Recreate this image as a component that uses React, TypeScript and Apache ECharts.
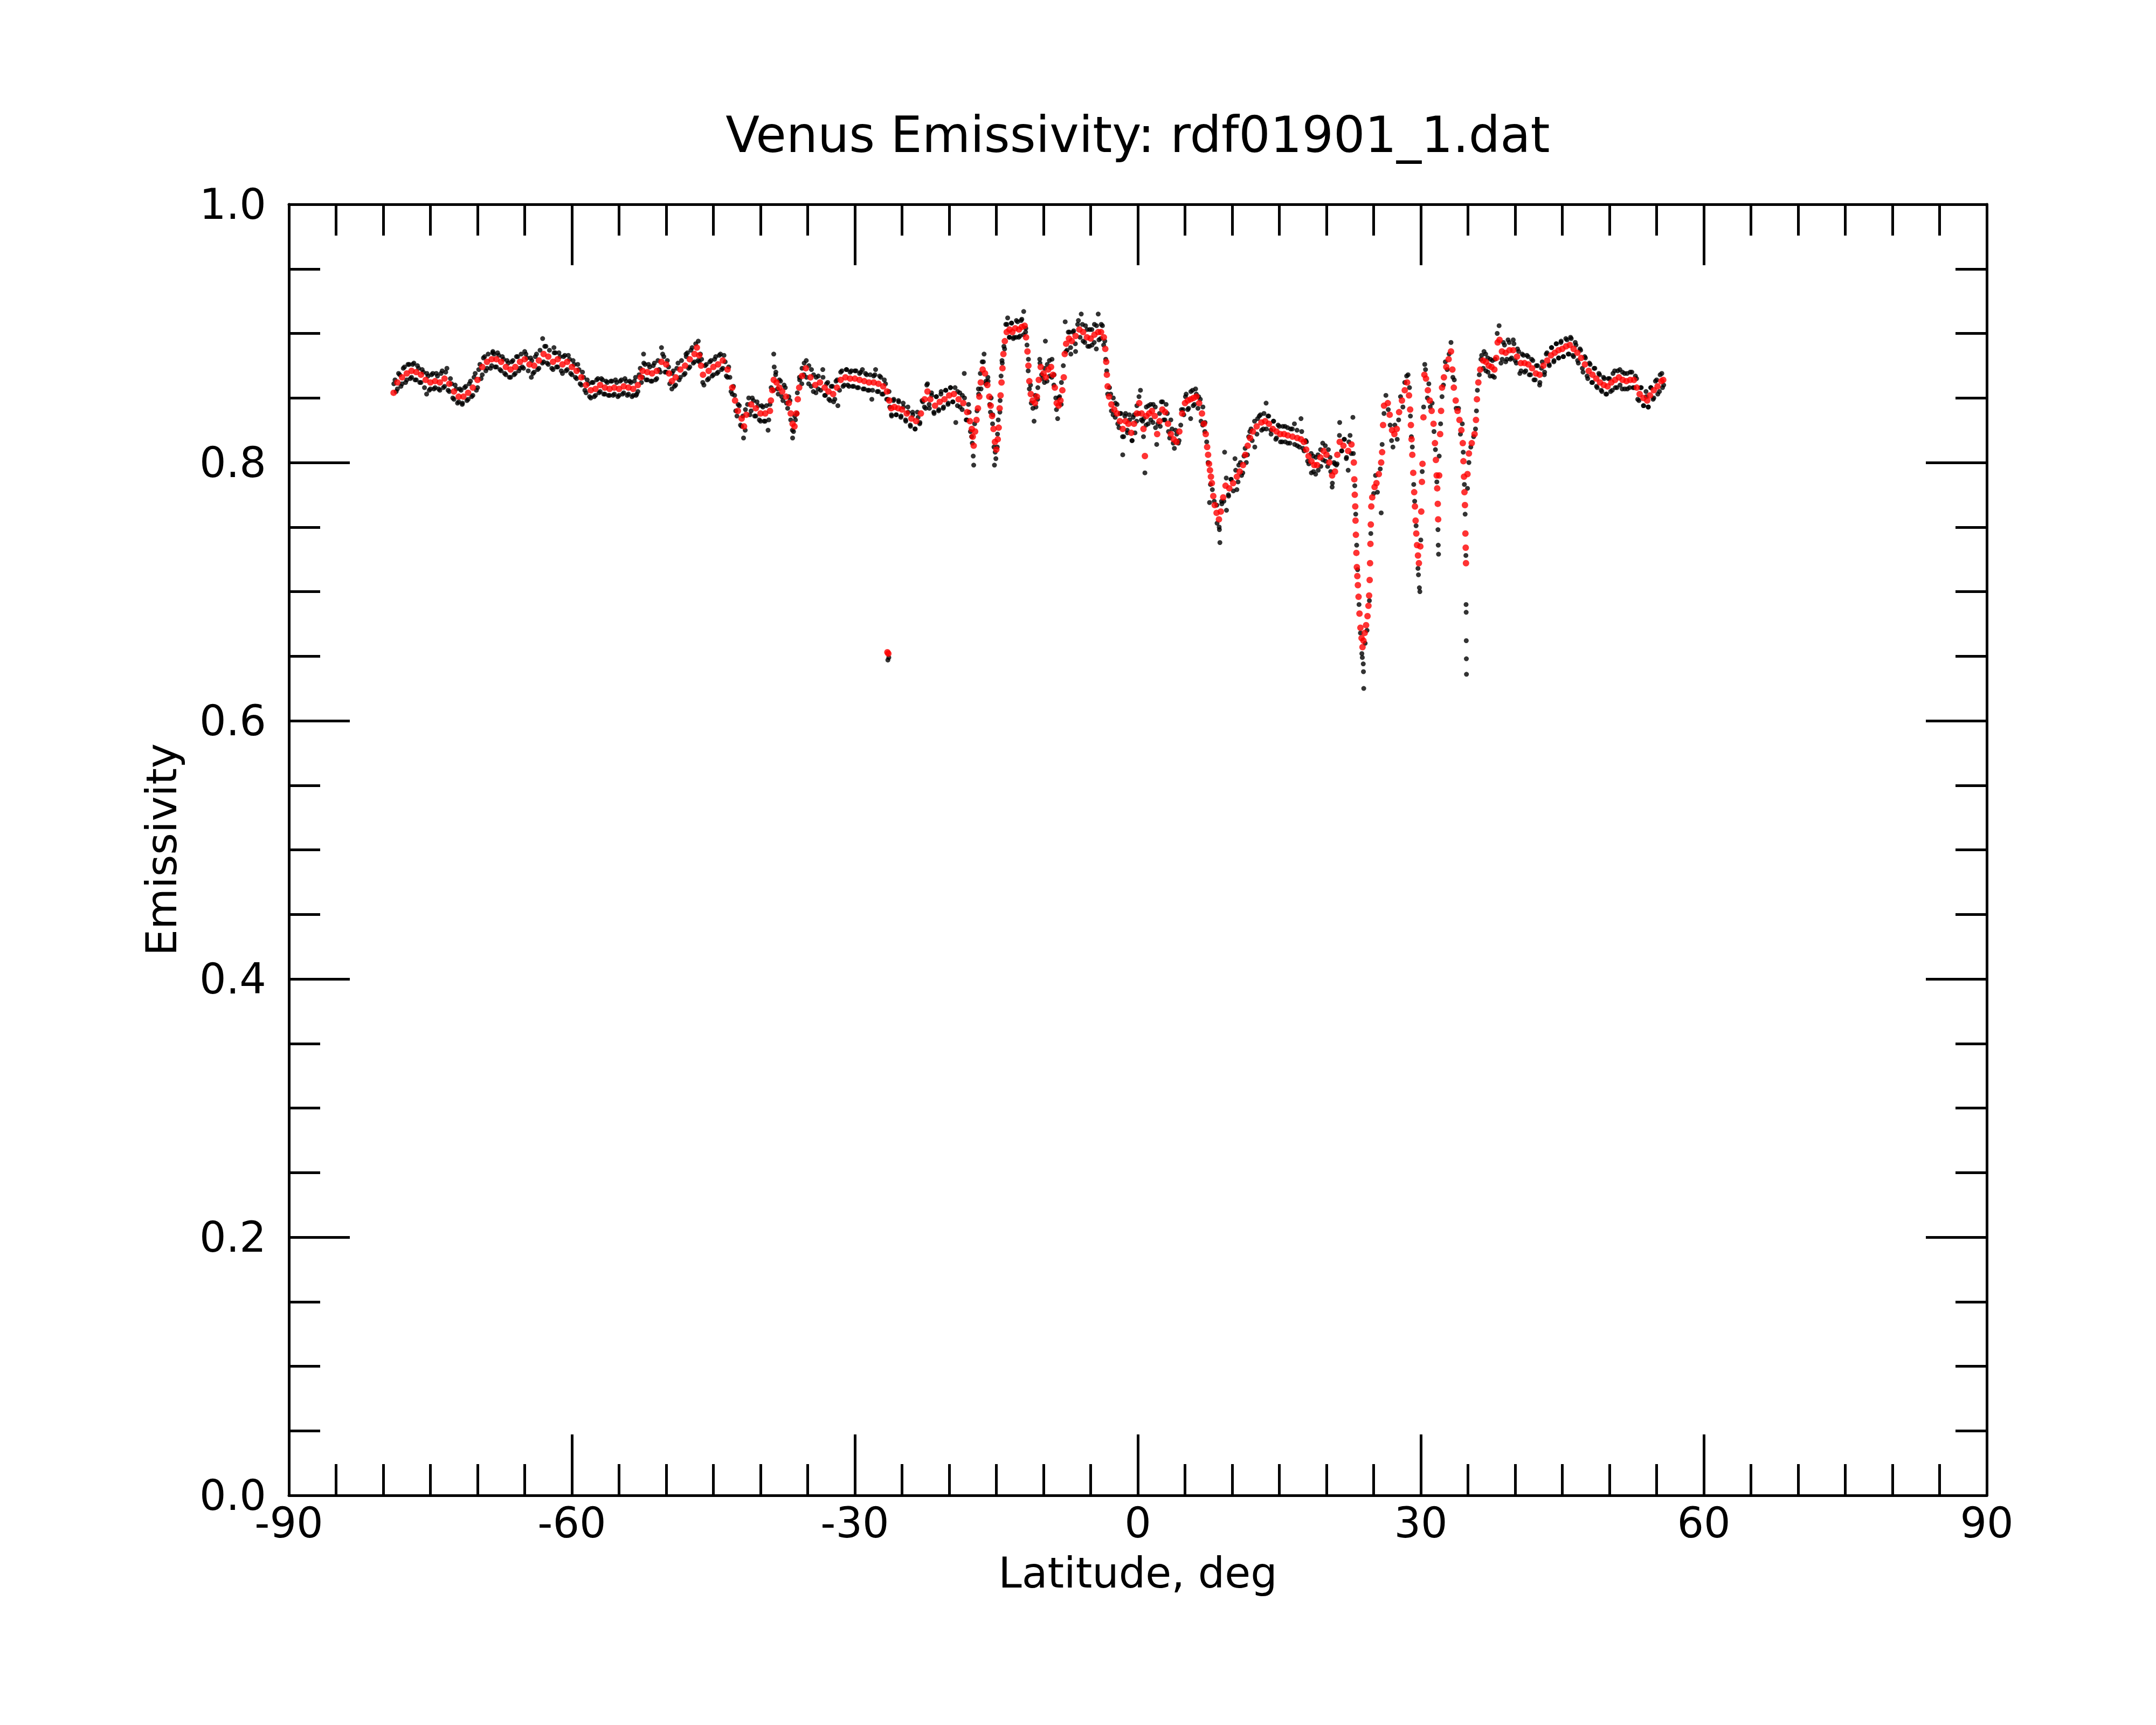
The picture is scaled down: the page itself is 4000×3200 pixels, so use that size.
import React, { useEffect, useRef } from "react";
import * as echarts from "echarts";

const TITLE = "Venus Emissivity: rdf01901_1.dat";
const X_NAME = "Latitude, deg";
const Y_NAME = "Emissivity";
const X_RANGE = [-90, 90];
const Y_RANGE = [0, 1];

// smoothed values (red), [latitude, emissivity]
const redSouth: [number, number][] = [
  [-78.9,0.854],[-78.5,0.862],[-78.0,0.866],[-77.5,0.869],[-77.0,0.871],[-76.5,0.870],[-76.0,0.868],[-75.5,0.864],[-75.0,0.862],[-74.5,0.863],[-74.0,0.862],[-73.5,0.865],[-73.0,0.861],[-72.5,0.855],[-72.0,0.851],[-71.5,0.851],[-71.0,0.854],[-70.5,0.858],[-70.0,0.864],[-69.5,0.874],[-69.0,0.878],[-68.5,0.880],[-68.0,0.880],[-67.5,0.878],[-67.0,0.874],[-66.5,0.872],[-66.0,0.874],[-65.5,0.878],[-65.0,0.880],[-64.5,0.876],[-64.0,0.875],[-63.5,0.879],[-63.0,0.884],[-62.5,0.882],[-62.0,0.878],[-61.5,0.880],[-61.0,0.876],[-60.5,0.878],[-60.0,0.874],[-59.5,0.871],[-59.0,0.866],[-58.5,0.860],[-58.0,0.856],[-57.5,0.857],[-57.0,0.860],[-56.5,0.858],[-56.0,0.857],[-55.5,0.858],[-55.0,0.857],[-54.5,0.859],[-54.0,0.858],[-53.5,0.857],[-53.0,0.860],[-52.7,0.866],[-52.5,0.871],[-52.0,0.870],[-51.5,0.869],[-51.0,0.871],[-50.5,0.878],[-50.0,0.876],[-49.7,0.869],[-49.4,0.863],[-49.0,0.866],[-48.5,0.872],[-48.0,0.875],[-47.5,0.880],[-47.0,0.884],[-46.75,0.889],[-46.5,0.883],[-46.3,0.875],[-46.1,0.868],[-45.5,0.871],[-45.0,0.874],[-44.5,0.876],[-44.0,0.879]
];
const redMid: [number, number][] = [
  [-43.5,0.872],[-43.0,0.858],[-42.7,0.848],[-42.4,0.840],[-42.0,0.834],[-41.75,0.828],[-41.5,0.837],[-41.0,0.845],[-40.5,0.842],[-40.0,0.838],[-39.5,0.838],[-39.0,0.840],[-38.9,0.848],[-38.75,0.856],[-38.6,0.864],[-38.3,0.862],[-38.0,0.858],[-37.7,0.855],[-37.3,0.851],[-37.0,0.846],[-36.8,0.838],[-36.6,0.830],[-36.4,0.828],[-36.2,0.838],[-36.05,0.849],[-35.9,0.858],[-35.6,0.867],[-35.2,0.873],[-34.7,0.866],[-34.2,0.860],[-33.7,0.862],[-33.2,0.858],[-32.8,0.855],[-32.3,0.853],[-31.9,0.858],[-31.5,0.864],[-31.0,0.866],[-30.5,0.865],[-30.0,0.865],[-29.5,0.864],[-29.0,0.863],[-28.5,0.862],[-28.0,0.862],[-27.5,0.861],[-27.0,0.859],[-26.6,0.855],[-26.35,0.848],[-26.15,0.842],[-25.8,0.843],[-25.4,0.842],[-25.0,0.841],[-24.5,0.838],[-24.0,0.834],[-23.5,0.832],[-23.0,0.838],[-22.6,0.849],[-22.3,0.855],[-22.0,0.849],[-21.5,0.844],[-21.0,0.847],[-20.5,0.849],[-20.0,0.852],[-19.5,0.853],[-19.0,0.849],[-18.5,0.846],[-18.1,0.839],[-17.8,0.832],[-17.6,0.826],[-17.5,0.820],[-17.4,0.813],[-17.25,0.824],[-17.1,0.833],[-16.95,0.842],[-16.8,0.851],[-16.65,0.862],[-16.45,0.872],[-16.2,0.869],[-15.95,0.860],[-15.75,0.851],[-15.6,0.844],[-15.45,0.836],[-15.3,0.826],[-15.15,0.816],[-15.0,0.810],[-14.85,0.818],[-14.75,0.827],[-14.65,0.842],[-14.55,0.852],[-14.45,0.862],[-14.35,0.873],[-14.25,0.884],[-14.1,0.894],[-13.9,0.901],[-13.6,0.903],[-13.3,0.901],[-13.0,0.904],[-12.6,0.903],[-12.3,0.905],[-12.0,0.906],[-11.85,0.897],[-11.7,0.886],[-11.6,0.875],[-11.5,0.863],[-11.35,0.853],[-11.15,0.848],[-10.9,0.846],[-10.7,0.851],[-10.5,0.864],[-10.3,0.874],[-10.0,0.869],[-9.75,0.866],[-9.5,0.872],[-9.2,0.874],[-9.0,0.868],[-8.8,0.858],[-8.6,0.846],[-8.4,0.844],[-8.2,0.848],[-8.0,0.856]
];
const redEquator: [number, number][] = [
  [-7.85,0.866],[-7.75,0.884],[-7.6,0.892],[-7.3,0.896],[-7.0,0.894],[-6.6,0.898],[-6.2,0.903],[-5.8,0.901],[-5.4,0.897],[-5.0,0.896],[-4.6,0.899],[-4.2,0.901],[-3.9,0.901],[-3.6,0.897],[-3.45,0.888],[-3.35,0.878],[-3.28,0.868],[-3.2,0.859],[-3.05,0.851],[-2.8,0.845],[-2.5,0.841],[-2.2,0.838],[-1.9,0.832],[-1.6,0.826],[-1.3,0.832],[-1.0,0.830],[-0.7,0.823],[-0.4,0.830],[-0.1,0.838],[0.15,0.846],[0.4,0.838],[0.6,0.826],[0.75,0.805],[0.9,0.836],[1.2,0.838],[1.5,0.840],[1.8,0.836],[2.05,0.822],[2.3,0.832],[2.6,0.841],[2.9,0.839],[3.2,0.830],[3.5,0.822],[3.8,0.818],[4.1,0.816],[4.4,0.824],[4.7,0.838],[5.0,0.846],[5.3,0.848],[5.6,0.849],[5.9,0.850],[6.2,0.851],[6.5,0.846],[6.8,0.838],[7.0,0.830],[7.2,0.822],[7.35,0.812],[7.45,0.806],[7.55,0.799],[7.65,0.794],[7.75,0.789],[7.85,0.784],[8.0,0.774],[8.15,0.767],[8.35,0.761],[8.6,0.756],[8.8,0.762],[9.05,0.773],[9.3,0.782],[9.7,0.780],[10.1,0.784],[10.5,0.789],[10.8,0.793],[11.15,0.798],[11.4,0.806],[11.65,0.813],[11.9,0.819],[12.2,0.824],[12.6,0.828],[13.1,0.831],[13.5,0.832],[13.9,0.830],[14.3,0.826],[14.7,0.824],[15.1,0.822],[15.5,0.822],[15.9,0.821],[16.4,0.820],[16.9,0.819],[17.3,0.818],[17.6,0.816],[17.85,0.810],[18.1,0.805],[18.4,0.801],[18.7,0.798],[19.0,0.798],[19.35,0.804],[19.7,0.809],[20.0,0.806],[20.3,0.800],[20.6,0.790],[20.9,0.793],[21.15,0.806],[21.4,0.816],[21.8,0.813],[22.3,0.809],[22.65,0.814]
];
const redNorth: [number, number][] = [
  [22.9,0.800],[22.95,0.787],[23.0,0.775],[23.05,0.766],[23.08,0.755],[23.12,0.744],[23.17,0.730],[23.22,0.719],[23.27,0.712],[23.33,0.705],[23.4,0.696],[23.5,0.683],[23.6,0.672],[23.72,0.664],[23.82,0.657],[23.92,0.662],[24.05,0.668],[24.2,0.674],[24.35,0.681],[24.45,0.689],[24.52,0.697],[24.58,0.709],[24.62,0.722],[24.66,0.737],[24.7,0.752],[24.75,0.766],[24.85,0.773],[25.1,0.781],[25.3,0.784],[25.55,0.791],[25.8,0.800],[25.9,0.808],[26.0,0.829],[26.1,0.844],[26.5,0.846],[26.7,0.837],[26.95,0.825],[27.2,0.822],[27.45,0.826],[27.7,0.839],[28.0,0.848],[28.3,0.856],[28.55,0.862],[28.75,0.852],[28.87,0.841],[28.95,0.829],[29.02,0.818],[29.1,0.806],[29.2,0.792],[29.3,0.777],[29.38,0.766],[29.45,0.755],[29.52,0.745],[29.6,0.736],[29.7,0.728],[29.8,0.722],[29.95,0.735],[30.05,0.762],[30.12,0.785],[30.18,0.799],[30.28,0.835],[30.38,0.868],[30.55,0.865],[30.75,0.856],[30.95,0.848],[31.15,0.840],[31.35,0.830],[31.5,0.815],[31.6,0.802],[31.68,0.790],[31.74,0.780],[31.8,0.768],[31.84,0.756],[31.95,0.790],[32.05,0.822],[32.15,0.840],[32.25,0.858],[32.45,0.866],[32.7,0.874],[32.95,0.880],[33.2,0.886],[33.35,0.872],[33.5,0.858],[33.7,0.848],[33.9,0.840],[34.1,0.833],[34.3,0.825],[34.45,0.815],[34.52,0.801],[34.58,0.789],[34.63,0.777],[34.68,0.767],[34.73,0.745],[34.76,0.734],[34.79,0.722],[34.95,0.791],[35.1,0.807],[35.4,0.815],[35.7,0.822],[35.85,0.833],[35.95,0.849],[36.1,0.862],[36.3,0.872],[36.6,0.879],[36.9,0.878],[37.2,0.875],[37.5,0.874],[37.8,0.872],[38.0,0.881],[38.15,0.893],[38.35,0.895],[38.6,0.886],[39.0,0.885],[39.4,0.887],[39.8,0.887],[40.2,0.882],[40.6,0.877],[41.0,0.877],[41.4,0.876],[41.8,0.873],[42.2,0.869],[42.6,0.868],[43.0,0.875],[43.4,0.879],[43.8,0.883],[44.2,0.885],[44.6,0.887],[45.0,0.888],[45.4,0.890],[45.8,0.891],[46.2,0.888],[46.6,0.885],[47.0,0.881],[47.4,0.876],[47.8,0.871],[48.2,0.868],[48.6,0.865],[49.0,0.862],[49.4,0.860],[49.8,0.859],[50.2,0.862],[50.6,0.864],[51.0,0.866],[51.4,0.864],[51.8,0.863],[52.2,0.864],[52.6,0.864],[52.9,0.858],[53.2,0.853],[53.6,0.850],[54.0,0.848],[54.3,0.852],[54.7,0.856],[55.1,0.859],[55.5,0.863],[55.7,0.864]
];
const redDropout: [number, number][] = [[-26.55,0.653],[-26.45,0.652]];

// raw values (black), [latitude, emissivity]
const blackSouth: [number, number][] = [
  [-78.75,0.864],[-78.5,0.857],[-78.25,0.868],[-78.0,0.861],[-77.75,0.874],[-77.5,0.864],[-77.25,0.876],[-77.0,0.866],[-76.75,0.877],[-76.5,0.864],[-76.25,0.873],[-76.0,0.862],[-75.75,0.870],[-75.4,0.853],[-75.25,0.867],[-75.0,0.857],[-74.75,0.869],[-74.5,0.858],[-74.25,0.867],[-74.0,0.856],[-73.75,0.871],[-73.5,0.859],[-73.25,0.873],[-73.0,0.855],[-72.75,0.861],[-72.5,0.849],[-72.25,0.857],[-72.0,0.847],[-71.75,0.856],[-71.6,0.846],[-71.25,0.859],[-71.0,0.849],[-70.75,0.863],[-70.5,0.852],[-70.25,0.869],[-70.0,0.858],[-69.75,0.876],[-69.5,0.868],[-69.25,0.882],[-69.0,0.873],[-68.4,0.885],[-68.5,0.875],[-68.25,0.884],[-68.0,0.874],[-67.75,0.883],[-67.5,0.871],[-67.25,0.880],[-67.0,0.868],[-66.75,0.877],[-66.5,0.866],[-66.25,0.879],[-66.0,0.869],[-65.75,0.882],[-65.5,0.873],[-65.0,0.886],[-65.25,0.874],[-64.75,0.881],[-64.3,0.866],[-64.25,0.879],[-64.0,0.870],[-63.75,0.884],[-63.5,0.873],[-63.1,0.896],[-63.0,0.878],[-62.75,0.890],[-62.5,0.876],[-61.9,0.889],[-62.0,0.872],[-61.75,0.885],[-61.5,0.874],[-61.25,0.882],[-61.0,0.869],[-60.75,0.883],[-60.5,0.872],[-60.25,0.880],[-60.0,0.868],[-59.75,0.876],[-59.5,0.865],[-59.25,0.872],[-59.0,0.860],[-58.75,0.866],[-58.5,0.854],[-58.25,0.861],[-58.0,0.850],[-57.75,0.862],[-57.5,0.852],[-57.25,0.865],[-57.0,0.855],[-56.75,0.864],[-56.5,0.853],[-56.25,0.862],[-56.0,0.852],[-55.75,0.863],[-55.5,0.853],[-55.25,0.862],[-55.0,0.852],[-54.75,0.864],[-54.5,0.854],[-54.25,0.863],[-54.0,0.853],[-53.75,0.862],[-53.5,0.852],[-53.25,0.866],[-53.2,0.852],[-53.0,0.855],[-52.4,0.884],[-52.75,0.873],[-52.5,0.866],[-52.25,0.876],[-52.0,0.864],[-51.75,0.874],[-51.5,0.863],[-51.25,0.877],[-51.0,0.865],[-50.5,0.889],[-50.75,0.872],[-50.25,0.882],[-50.0,0.870],[-49.75,0.874],[-49.4,0.857],[-49.25,0.871],[-49.0,0.860],[-48.75,0.877],[-48.5,0.866],[-47.9,0.884],[-48.0,0.869],[-47.75,0.885],[-47.5,0.874],[-47.25,0.889],[-47.0,0.878],[-46.6,0.894],[-46.5,0.878],[-46.25,0.880],[-46.0,0.860],[-45.75,0.876],[-45.5,0.865],[-45.25,0.879],[-45.0,0.868],[-44.75,0.882],[-44.5,0.870],[-44.25,0.884],[-44.0,0.873]
];
const blackMid: [number, number][] = [
  [-43.75,0.878],[-43.5,0.866],[-43.25,0.866],[-43.0,0.853],[-42.75,0.852],[-42.5,0.836],[-42.25,0.844],[-42.0,0.828],[-41.8,0.819],[-41.6,0.841],[-41.25,0.850],[-41.0,0.840],[-40.75,0.848],[-40.5,0.836],[-40.25,0.844],[-40.0,0.832],[-39.75,0.843],[-39.5,0.832],[-39.2,0.825],[-39.0,0.845],[-38.6,0.884],[-38.55,0.874],[-38.4,0.868],[-38.2,0.857],[-38.0,0.864],[-37.75,0.851],[-37.5,0.860],[-37.25,0.846],[-37.0,0.851],[-36.8,0.833],[-36.6,0.819],[-36.5,0.824],[-36.3,0.833],[-36.1,0.854],[-35.85,0.864],[-35.6,0.873],[-35.4,0.868],[-35.15,0.879],[-34.9,0.861],[-34.6,0.872],[-34.4,0.855],[-34.1,0.866],[-33.9,0.857],[-33.4,0.872],[-33.2,0.852],[-33.0,0.861],[-32.75,0.849],[-32.5,0.859],[-32.25,0.847],[-32.0,0.863],[-31.8,0.844],[-31.5,0.870],[-31.25,0.859],[-30.9,0.872],[-30.75,0.860],[-30.5,0.870],[-30.25,0.859],[-30.0,0.871],[-29.75,0.858],[-29.5,0.869],[-29.2,0.872],[-29.0,0.857],[-28.75,0.868],[-28.5,0.856],[-28.2,0.849],[-28.0,0.867],[-27.8,0.872],[-27.5,0.855],[-27.25,0.866],[-27.0,0.853],[-26.75,0.861],[-26.5,0.849],[-26.5,0.647],[-26.4,0.649],[-26.3,0.843],[-26.1,0.836],[-25.9,0.848],[-25.6,0.837],[-25.35,0.847],[-25.1,0.836],[-24.85,0.843],[-24.6,0.832],[-24.35,0.839],[-24.1,0.828],[-23.85,0.837],[-23.6,0.826],[-23.3,0.835],[-23.1,0.831],[-22.8,0.847],[-22.5,0.842],[-22.3,0.861],[-22.1,0.842],[-21.85,0.852],[-21.6,0.838],[-21.35,0.851],[-21.1,0.841],[-20.85,0.855],[-20.6,0.843],[-20.35,0.856],[-20.1,0.846],[-19.85,0.858],[-19.6,0.847],[-19.3,0.831],[-19.1,0.855],[-18.85,0.843],[-18.6,0.852],[-18.4,0.869],[-18.2,0.833],[-17.95,0.845],[-17.75,0.824],[-17.55,0.815],[-17.45,0.805],[-17.4,0.798],[-17.3,0.830],[-17.05,0.840],[-16.9,0.857],[-16.7,0.869],[-16.5,0.878],[-16.3,0.884],[-16.1,0.863],[-15.9,0.866],[-15.7,0.845],[-15.55,0.850],[-15.4,0.830],[-15.25,0.812],[-15.2,0.798],[-15.05,0.803],[-14.9,0.812],[-14.8,0.833],[-14.6,0.848],[-14.5,0.867],[-14.4,0.879],[-14.2,0.890],[-14.0,0.907],[-13.8,0.912],[-13.6,0.897],[-13.4,0.908],[-13.2,0.896],[-12.9,0.897],[-12.75,0.909],[-12.5,0.898],[-12.3,0.911],[-12.1,0.917],[-11.9,0.901],[-11.75,0.891],[-11.6,0.880],[-11.5,0.857],[-11.3,0.846],[-11.0,0.832],[-10.8,0.843],[-10.6,0.858],[-10.4,0.880],[-10.2,0.868],[-9.8,0.894],[-9.9,0.862],[-9.6,0.876],[-9.35,0.867],[-9.1,0.880],[-8.9,0.860],[-8.7,0.850],[-8.5,0.834],[-8.3,0.851],[-8.1,0.862],[-7.9,0.875]
];
const blackEquator: [number, number][] = [
  [-7.7,0.909],[-7.5,0.887],[-7.25,0.901],[-7.1,0.884],[-6.8,0.902],[-6.6,0.886],[-6.3,0.910],[-6.0,0.915],[-5.8,0.894],[-5.55,0.906],[-5.3,0.890],[-5.1,0.903],[-4.85,0.891],[-4.6,0.907],[-4.4,0.888],[-4.2,0.915],[-3.95,0.896],[-3.75,0.906],[-3.5,0.894],[-3.4,0.880],[-3.3,0.871],[-3.2,0.853],[-3.0,0.858],[-2.8,0.840],[-2.6,0.850],[-2.4,0.835],[-2.2,0.845],[-2.0,0.827],[-1.8,0.838],[-1.6,0.806],[-1.5,0.820],[-1.3,0.838],[-1.1,0.823],[-0.9,0.837],[-0.6,0.817],[-0.5,0.835],[-0.3,0.823],[-0.1,0.844],[0.1,0.838],[0.28,0.856],[0.5,0.832],[0.75,0.792],[0.6,0.820],[0.9,0.843],[1.1,0.830],[1.35,0.845],[1.6,0.831],[1.85,0.843],[2.0,0.814],[2.3,0.838],[2.5,0.847],[2.75,0.833],[3.0,0.845],[3.25,0.824],[3.5,0.833],[3.75,0.815],[4.0,0.825],[4.3,0.815],[4.55,0.829],[4.8,0.841],[5.05,0.851],[5.3,0.841],[5.6,0.834],[5.8,0.856],[6.0,0.845],[6.2,0.853],[6.45,0.851],[6.7,0.832],[6.9,0.843],[7.1,0.824],[7.3,0.816],[7.45,0.800],[7.6,0.769],[7.7,0.783],[7.9,0.779],[8.1,0.770],[8.4,0.753],[8.7,0.738],[8.65,0.748],[8.9,0.768],[9.2,0.808],[9.4,0.763],[9.6,0.775],[9.9,0.787],[10.3,0.803],[10.5,0.779],[10.7,0.798],[11.0,0.790],[11.25,0.805],[11.5,0.800],[11.75,0.820],[12.0,0.826],[12.4,0.812],[12.7,0.834],[13.0,0.837],[13.3,0.826],[13.6,0.846],[13.8,0.836],[14.1,0.825],[14.4,0.832],[14.7,0.819],[15.0,0.828],[15.3,0.816],[15.6,0.828],[15.9,0.815],[16.2,0.826],[16.6,0.830],[16.9,0.813],[17.3,0.834],[17.5,0.811],[17.8,0.817],[18.0,0.801],[18.4,0.792],[18.6,0.805],[18.85,0.791],[19.1,0.806],[19.4,0.797],[19.6,0.815],[19.9,0.801],[20.2,0.810],[20.45,0.793],[20.6,0.781],[20.8,0.800],[21.05,0.798],[21.4,0.831],[21.6,0.809],[21.9,0.818],[22.1,0.803],[22.3,0.794],[22.5,0.821],[22.8,0.835],[22.85,0.807]
];
const blackNorth: [number, number][] = [
  [23.0,0.782],[23.1,0.760],[23.2,0.736],[23.3,0.717],[23.45,0.690],[23.6,0.668],[23.75,0.652],[23.8,0.649],[23.9,0.644],[23.92,0.638],[23.95,0.625],[24.1,0.660],[24.3,0.670],[24.55,0.693],[24.7,0.745],[25.0,0.776],[25.2,0.790],[25.4,0.777],[25.8,0.761],[25.7,0.795],[25.9,0.814],[26.1,0.838],[26.3,0.852],[26.55,0.841],[26.75,0.829],[26.9,0.817],[27.05,0.812],[27.25,0.829],[27.5,0.818],[27.65,0.833],[27.85,0.851],[28.1,0.843],[28.3,0.862],[28.5,0.867],[28.65,0.868],[28.8,0.858],[28.9,0.836],[29.0,0.820],[29.1,0.812],[29.25,0.783],[29.35,0.770],[29.5,0.751],[29.7,0.718],[29.75,0.713],[29.85,0.703],[29.9,0.700],[30.0,0.740],[30.15,0.793],[30.3,0.843],[30.42,0.876],[30.5,0.872],[30.7,0.850],[30.85,0.861],[31.0,0.843],[31.2,0.846],[31.4,0.824],[31.55,0.810],[31.7,0.785],[31.82,0.748],[31.85,0.736],[31.88,0.729],[31.95,0.805],[32.1,0.830],[32.25,0.851],[32.4,0.860],[32.6,0.878],[32.8,0.872],[33.0,0.884],[33.2,0.893],[33.4,0.866],[33.55,0.864],[33.75,0.842],[34.0,0.842],[34.2,0.822],[34.4,0.830],[34.5,0.808],[34.62,0.783],[34.7,0.760],[34.78,0.728],[34.8,0.690],[34.81,0.684],[34.82,0.662],[34.83,0.648],[34.84,0.636],[34.95,0.780],[35.1,0.800],[35.3,0.812],[35.6,0.820],[35.8,0.826],[35.9,0.840],[36.0,0.856],[36.2,0.868],[36.45,0.883],[36.7,0.886],[36.9,0.871],[37.1,0.881],[37.35,0.867],[37.6,0.879],[37.8,0.866],[38.1,0.900],[38.3,0.906],[38.5,0.877],[38.75,0.893],[39.0,0.878],[39.25,0.895],[39.5,0.880],[39.8,0.895],[40.0,0.879],[40.25,0.888],[40.5,0.869],[40.75,0.884],[41.0,0.870],[41.25,0.883],[41.5,0.868],[41.75,0.880],[42.0,0.864],[42.25,0.875],[42.6,0.860],[42.8,0.873],[43.1,0.868],[43.3,0.884],[43.6,0.876],[43.85,0.889],[44.1,0.878],[44.35,0.892],[44.6,0.881],[44.85,0.893],[45.1,0.882],[45.5,0.895],[45.7,0.884],[45.95,0.896],[46.2,0.882],[46.45,0.891],[46.7,0.877],[46.95,0.887],[47.2,0.870],[47.45,0.881],[47.7,0.865],[47.95,0.876],[48.2,0.862],[48.45,0.873],[48.7,0.858],[48.95,0.868],[49.2,0.855],[49.45,0.865],[49.7,0.853],[50.0,0.865],[50.3,0.856],[50.55,0.871],[50.8,0.858],[51.1,0.872],[51.35,0.857],[51.6,0.869],[51.9,0.857],[52.2,0.870],[52.5,0.858],[52.75,0.867],[53.0,0.849],[53.3,0.858],[53.6,0.844],[53.9,0.851],[54.1,0.843],[54.4,0.858],[54.7,0.850],[55.0,0.864],[55.3,0.855],[55.55,0.869],[55.75,0.860]
];
// more raw samples filling the band
const blackFillSouth: [number, number][] = [
  [-78.875,0.861],[-78.625,0.855],[-78.375,0.869],[-78.125,0.859],[-77.875,0.873],[-77.625,0.862],[-77.375,0.876],[-77.125,0.865],[-76.875,0.876],[-76.625,0.864],[-76.375,0.875],[-76.125,0.862],[-75.875,0.872],[-75.625,0.858],[-75.375,0.869],[-75.125,0.856],[-74.875,0.868],[-74.625,0.857],[-74.375,0.869],[-74.125,0.857],[-73.875,0.869],[-73.625,0.858],[-73.375,0.870],[-73.125,0.856],[-72.875,0.865],[-72.625,0.850],[-72.375,0.860],[-72.125,0.846],[-71.875,0.857],[-71.625,0.845],[-71.375,0.858],[-71.125,0.848],[-70.875,0.861],[-70.625,0.851],[-70.375,0.866],[-70.125,0.856],[-69.875,0.872],[-69.625,0.865],[-69.375,0.881],[-69.125,0.871],[-68.875,0.884],[-68.625,0.873],[-68.375,0.886],[-68.125,0.874],[-67.875,0.885],[-67.625,0.872],[-67.375,0.882],[-67.125,0.869],[-66.875,0.879],[-66.625,0.866],[-66.375,0.878],[-66.125,0.868],[-65.875,0.882],[-65.625,0.871],[-65.375,0.884],[-65.125,0.873],[-64.875,0.884],[-64.625,0.871],[-64.375,0.881],[-64.125,0.869],[-63.875,0.882],[-63.625,0.872],[-63.375,0.887],[-63.125,0.877],[-62.875,0.890],[-62.625,0.877],[-62.375,0.887],[-62.125,0.873],[-61.875,0.885],[-61.625,0.874],[-61.375,0.885],[-61.125,0.871],[-60.875,0.882],[-60.625,0.871],[-60.375,0.883],[-60.125,0.869],[-59.875,0.879],[-59.625,0.866],[-59.375,0.876],[-59.125,0.861],[-58.875,0.870],[-58.625,0.856],[-58.375,0.864],[-58.125,0.851],[-57.875,0.862],[-57.625,0.851],[-57.375,0.864],[-57.125,0.854],[-56.875,0.865],[-56.625,0.853],[-56.375,0.863],[-56.125,0.852],[-55.875,0.863],[-55.625,0.852],[-55.375,0.864],[-55.125,0.851],[-54.875,0.863],[-54.625,0.853],[-54.375,0.865],[-54.125,0.852],[-53.875,0.863],[-53.625,0.851],[-53.375,0.863],[-53.125,0.853],[-52.875,0.868],[-52.625,0.862],[-52.375,0.877],[-52.125,0.864],[-51.875,0.876],[-51.625,0.863],[-51.375,0.875],[-51.125,0.864],[-50.875,0.879],[-50.625,0.870],[-50.375,0.884],[-50.125,0.870],[-49.875,0.879],[-49.625,0.861],[-49.375,0.869],[-49.125,0.859],[-48.875,0.873],[-48.625,0.864],[-48.375,0.879],[-48.125,0.868],[-47.875,0.882],[-47.625,0.873],[-47.375,0.887],[-47.125,0.877],[-46.875,0.892],[-46.625,0.879],[-46.375,0.884],[-46.125,0.862],[-45.875,0.875],[-45.625,0.864],[-45.375,0.878],[-45.125,0.867],[-44.875,0.880],[-44.625,0.869],[-44.375,0.883],[-44.125,0.872],[-43.875,0.883],[-43.625,0.867]
];
const blackFillMid: [number, number][] = [
  [-43.375,0.874],[-43.125,0.855],[-42.875,0.859],[-42.625,0.840],[-42.375,0.845],[-42.125,0.829],[-41.875,0.836],[-41.625,0.825],[-41.375,0.845],[-41.125,0.837],[-40.875,0.850],[-40.625,0.836],[-40.375,0.847],[-40.125,0.833],[-39.875,0.844],[-39.625,0.832],[-39.375,0.844],[-39.125,0.833],[-38.875,0.858],[-38.625,0.856],[-38.375,0.870],[-38.125,0.853],[-37.875,0.863],[-37.625,0.848],[-37.375,0.858],[-37.125,0.842],[-36.875,0.848],[-36.625,0.825],[-36.375,0.836],[-36.125,0.838],[-35.875,0.866],[-35.625,0.861],[-35.375,0.877],[-35.125,0.866],[-34.875,0.875],[-34.625,0.859],[-34.375,0.868],[-34.125,0.854],[-33.875,0.867],[-33.625,0.856],[-33.375,0.866],[-33.125,0.852],[-32.875,0.862],[-32.625,0.848],[-32.375,0.859],[-32.125,0.849],[-31.875,0.864],[-31.625,0.856],[-31.375,0.871],[-31.125,0.860],[-30.875,0.872],[-30.625,0.859],[-30.375,0.871],[-30.125,0.859],[-29.875,0.871],[-29.625,0.858],[-29.375,0.870],[-29.125,0.857],[-28.875,0.869],[-28.625,0.856],[-28.375,0.868],[-28.125,0.856],[-27.875,0.868],[-27.625,0.855],[-27.375,0.867],[-27.125,0.853],[-26.875,0.864],[-26.625,0.849],[-26.375,0.855],[-26.125,0.837],[-25.875,0.849],[-25.625,0.837],[-25.375,0.848],[-25.125,0.835],[-24.875,0.846],[-24.625,0.833],[-24.375,0.843],[-24.125,0.829],[-23.875,0.839],[-23.625,0.826],[-23.375,0.839],[-23.125,0.830],[-22.875,0.848],[-22.625,0.843],[-22.375,0.860],[-22.125,0.845],[-21.875,0.854],[-21.625,0.839],[-21.375,0.851],[-21.125,0.840],[-20.875,0.853],[-20.625,0.842],[-20.375,0.856],[-20.125,0.845],[-19.875,0.858],[-19.625,0.847],[-19.375,0.858],[-19.125,0.844],[-18.875,0.854],[-18.625,0.841],[-18.375,0.850],[-18.125,0.833],[-17.875,0.839],[-17.625,0.820],[-16.875,0.853],[-16.625,0.857],[-16.375,0.878],[-16.125,0.861],[-15.875,0.863],[-15.625,0.839],[-15.375,0.837],[-15.125,0.808],[-14.875,0.822],[-14.625,0.839],[-14.375,0.877],[-14.125,0.888],[-13.875,0.907],[-13.625,0.897],[-13.375,0.908],[-13.125,0.897],[-12.875,0.910],[-12.625,0.897],[-12.375,0.910],[-12.125,0.899],[-11.875,0.904],[-11.625,0.871],[-11.375,0.860],[-11.125,0.842],[-10.875,0.852],[-10.625,0.849],[-10.375,0.877],[-10.125,0.865],[-9.875,0.873],[-9.625,0.863],[-9.375,0.879],[-9.125,0.866],[-8.875,0.868],[-8.625,0.841],[-8.375,0.850],[-8.125,0.845]
];
const blackFillEquator: [number, number][] = [
  [-7.625,0.886],[-7.375,0.901],[-7.125,0.889],[-6.875,0.901],[-6.625,0.892],[-6.375,0.907],[-6.125,0.897],[-5.875,0.907],[-5.625,0.893],[-5.375,0.903],[-5.125,0.890],[-4.875,0.903],[-4.625,0.893],[-4.375,0.906],[-4.125,0.895],[-3.875,0.907],[-3.625,0.891],[-2.875,0.853],[-2.625,0.837],[-2.375,0.846],[-2.125,0.830],[-1.875,0.838],[-1.625,0.820],[-1.375,0.836],[-1.125,0.825],[-0.875,0.833],[-0.625,0.817],[-0.375,0.837],[-0.125,0.832],[0.125,0.851],[0.375,0.833],[0.625,0.834],[0.875,0.829],[1.125,0.844],[1.375,0.833],[1.625,0.845],[1.875,0.827],[2.125,0.830],[2.375,0.828],[2.625,0.847],[2.875,0.833],[3.125,0.838],[3.375,0.819],[3.625,0.826],[3.875,0.811],[4.125,0.822],[4.375,0.817],[4.625,0.841],[4.875,0.837],[5.125,0.853],[5.375,0.842],[5.625,0.855],[5.875,0.844],[6.125,0.857],[6.375,0.842],[6.625,0.849],[6.875,0.829],[7.125,0.831],[8.375,0.767],[8.625,0.750],[8.875,0.770],[9.125,0.770],[9.375,0.788],[9.625,0.774],[9.875,0.787],[10.125,0.778],[10.375,0.794],[10.625,0.785],[10.875,0.800],[11.125,0.792],[11.375,0.811],[11.625,0.806],[11.875,0.824],[12.125,0.817],[12.375,0.832],[12.625,0.822],[12.875,0.836],[13.125,0.825],[13.375,0.838],[13.625,0.826],[13.875,0.836],[14.125,0.822],[14.375,0.832],[14.625,0.818],[14.875,0.829],[15.125,0.816],[15.375,0.828],[15.625,0.816],[15.875,0.827],[16.125,0.815],[16.375,0.826],[16.625,0.814],[16.875,0.825],[17.125,0.812],[17.375,0.824],[17.625,0.809],[17.875,0.816],[18.125,0.799],[18.375,0.807],[18.625,0.793],[18.875,0.804],[19.125,0.794],[19.375,0.810],[19.625,0.802],[19.875,0.813],[20.125,0.797],[20.375,0.804],[20.625,0.784],[20.875,0.799],[21.125,0.799],[21.375,0.821],[21.625,0.809],[21.875,0.818],[22.125,0.804],[22.375,0.816],[22.625,0.807]
];
const blackFillNorth: [number, number][] = [
  [36.375,0.880],[36.625,0.873],[36.875,0.884],[37.125,0.870],[37.375,0.880],[37.625,0.867],[37.875,0.880],[38.625,0.880],[38.875,0.891],[39.125,0.880],[39.375,0.893],[39.625,0.881],[39.875,0.892],[40.125,0.877],[40.375,0.886],[40.625,0.871],[40.875,0.883],[41.125,0.871],[41.375,0.882],[41.625,0.868],[41.875,0.879],[42.125,0.864],[42.375,0.875],[42.625,0.862],[42.875,0.878],[43.125,0.870],[43.375,0.885],[43.625,0.875],[43.875,0.889],[44.125,0.879],[44.375,0.892],[44.625,0.881],[44.875,0.894],[45.125,0.882],[45.375,0.896],[45.625,0.884],[45.875,0.897],[46.125,0.883],[46.375,0.893],[46.625,0.879],[46.875,0.888],[47.125,0.873],[47.375,0.882],[47.625,0.867],[47.875,0.877],[48.125,0.862],[48.375,0.873],[48.625,0.859],[48.875,0.869],[49.125,0.856],[49.375,0.866],[49.625,0.853],[49.875,0.865],[50.125,0.855],[50.375,0.869],[50.625,0.858],[50.875,0.871],[51.125,0.860],[51.375,0.870],[51.625,0.857],[51.875,0.869],[52.125,0.858],[52.375,0.870],[52.625,0.858],[52.875,0.865],[53.125,0.848],[53.375,0.858],[53.625,0.844],[53.875,0.855],[54.125,0.843],[54.375,0.858],[54.625,0.849],[54.875,0.863],[55.125,0.853],[55.375,0.868],[55.625,0.858]
];

const FONT = "DejaVu Sans";

function axisCommon(showLabel: boolean, isX: boolean) {
  return {
    type: "value" as const,
    min: isX ? X_RANGE[0] : Y_RANGE[0],
    max: isX ? X_RANGE[1] : Y_RANGE[1],
    interval: isX ? 30 : 0.2,
    axisLine: { show: true, onZero: false, lineStyle: { color: "#000", width: 5 } },
    axisTick: { show: true, inside: true, length: 113, lineStyle: { color: "#000", width: 5 } },
    minorTick: { show: true, splitNumber: isX ? 6 : 4, length: 58, lineStyle: { color: "#000", width: 5 } },
    splitLine: { show: false },
    minorSplitLine: { show: false },
    axisLabel: showLabel
      ? {
          show: true,
          fontSize: 78,
          lineHeight: 60,
          fontFamily: FONT,
          color: "#000",
          margin: isX ? 51 : 42,
          verticalAlign: "middle",
          showMinLabel: true,
          showMaxLabel: true,
          hideOverlap: false,
          formatter: isX ? (v: number) => String(Math.round(v)) : (v: number) => v.toFixed(1),
        }
      : { show: false },
  };
}

export default function App() {
  const ref = useRef<HTMLDivElement>(null);
  useEffect(() => {
    if (!ref.current) return;
    const chart = echarts.init(ref.current, null, { renderer: "svg", width: 4000, height: 3200 });
    const blackData = [
      ...blackSouth, ...blackMid, ...blackEquator, ...blackNorth,
      ...blackFillSouth, ...blackFillMid, ...blackFillEquator, ...blackFillNorth,
    ];
    const redData = [...redSouth, ...redMid, ...redEquator, ...redNorth, ...redDropout];
    chart.setOption({
      animation: false,
      backgroundColor: "#ffffff",
      textStyle: { fontFamily: FONT },
      grid: { left: 536, top: 379, width: 3150, height: 2395, containLabel: false, outerBoundsMode: "none" },
      xAxis: [
        { ...axisCommon(true, true), position: "bottom" },
        { ...axisCommon(false, true), position: "top" },
      ],
      yAxis: [
        { ...axisCommon(true, false), position: "left" },
        { ...axisCommon(false, false), position: "right" },
      ],
      graphic: [
        { type: "text", x: 2111, y: 250, style: { text: TITLE, font: `92px "${FONT}"`, fill: "#000", textAlign: "center", textVerticalAlign: "middle", verticalAlign: "middle" } },
        { type: "text", x: 2111, y: 2918, style: { text: X_NAME, font: `78px "${FONT}"`, lineHeight: 60, fill: "#000", textAlign: "center", textVerticalAlign: "middle", verticalAlign: "middle" } },
        { type: "text", x: 300, y: 1576, rotation: Math.PI / 2, style: { text: Y_NAME, font: `78px "${FONT}"`, fill: "#000", textAlign: "center", textVerticalAlign: "middle", verticalAlign: "middle" } },
      ],
      series: [
        {
          type: "scatter",
          name: "raw",
          xAxisIndex: 0,
          yAxisIndex: 0,
          data: blackData,
          symbol: "circle",
          symbolSize: 9,
          itemStyle: { color: "#000000" },
          silent: true,
          z: 2,
        },
        {
          type: "scatter",
          name: "smoothed",
          xAxisIndex: 0,
          yAxisIndex: 0,
          data: redData,
          symbol: "circle",
          symbolSize: 12,
          itemStyle: { color: "#ff0000" },
          silent: true,
          z: 3,
        },
      ],
    });
    return () => chart.dispose();
  }, []);
  return (
    <div
      ref={ref}
      style={{ position: "absolute", left: 0, top: 0, width: 4000, height: 3200, background: "#fff" }}
    />
  );
}
